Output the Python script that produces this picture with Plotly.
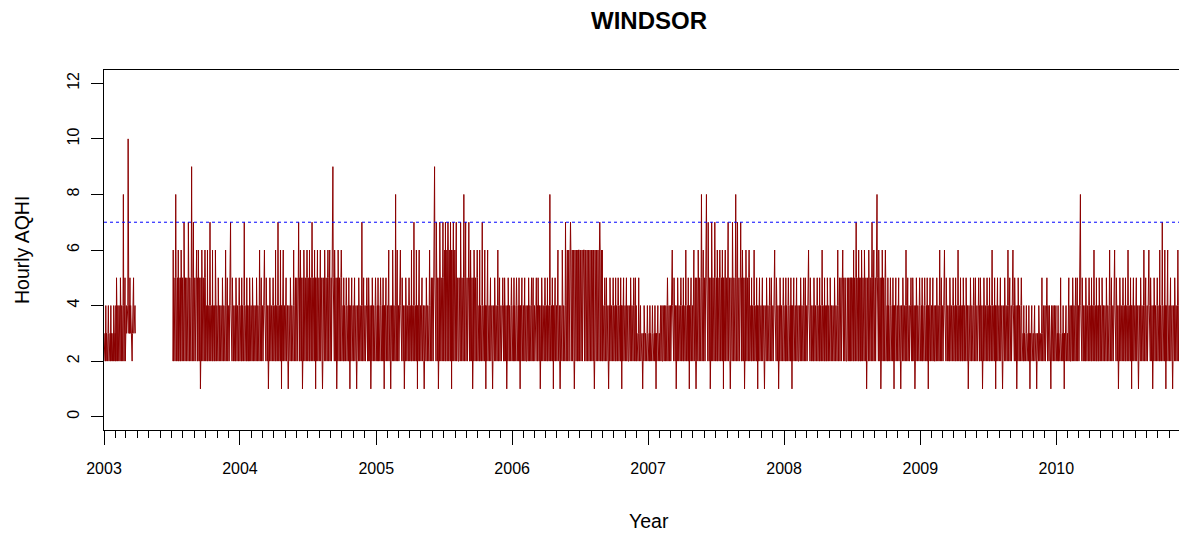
import pandas as pd
import plotly.graph_objects as go

# ---- data (monthly summaries of hourly AQHI, Windsor) ----
years = [2003, 2004, 2005, 2006, 2007, 2008, 2009, 2010]
data_start = "2003-01-01"
gap_start = "2003-03-27"     # no observations in this gap
gap_end = "2003-07-04"
data_end = "2010-12-31"
threshold = 7

# monthly minimum
mon_min = [2, 2, 2, None, None, None, 2, 2, 1, 2, 2, 2,
           2, 2, 1, 1, 1, 1, 1, 1, 1, 1, 1, 1,
           1, 1, 1, 1, 1, 1, 1, 2, 1, 1, 1, 1,
           1, 2, 1, 1, 1, 1, 2, 1, 1, 1, 2, 1,
           1, 2, 1, 1, 1, 1, 1, 1, 1, 1, 1, 1,
           1, 2, 2, 2, 2, 2, 2, 1, 1, 1, 1, 1,
           1, 2, 2, 2, 1, 1, 1, 1, 1, 1, 1, 1,
           1, 2, 2, 2, 2, 1, 1, 1, 1, 1, 1, 1]
# bottom of the dense band
band_lo = [2, 2, 3, None, None, None, 2, 2, 2, 2, 2, 2,
           2, 2, 2, 2, 2, 2, 2, 2, 2, 2, 2, 2,
           2, 2, 2, 2, 2, 2, 2, 2, 2, 2, 2, 2,
           2, 2, 2, 2, 2, 2, 2, 2, 2, 2, 2, 2,
           2, 2, 2, 2, 2, 2, 2, 2, 2, 2, 2, 2,
           2, 2, 2, 2, 2, 2, 2, 2, 2, 2, 2, 2,
           2, 2, 2, 2, 2, 2, 2, 2, 2, 2, 2, 2,
           2, 2, 2, 2, 2, 2, 2, 2, 2, 2, 2, 2]
# top of the dense band
band_hi = [3, 4, 4, None, None, None, 5, 5, 5, 4, 4, 4,
           4, 4, 4, 4, 4, 5, 5, 5, 5, 4, 4, 4,
           4, 4, 4, 4, 4, 5, 6, 5, 5, 4, 4, 4,
           4, 4, 4, 4, 4, 6, 6, 6, 4, 4, 4, 3,
           3, 4, 4, 4, 5, 5, 5, 5, 5, 4, 4, 4,
           4, 4, 4, 4, 4, 5, 5, 5, 5, 4, 4, 4,
           4, 4, 4, 4, 4, 4, 4, 4, 4, 3, 3, 4,
           3, 4, 4, 4, 4, 4, 4, 4, 4, 4, 4, 4]
# frequent secondary spikes
mon_sub = [4, 5, 5, None, None, None, 6, 7, 6, 6, 5, 5,
           5, 5, 5, 6, 5, 6, 6, 6, 6, 5, 5, 5,
           5, 6, 5, 6, 5, 7, 7, 7, 6, 6, 5, 5,
           5, 5, 5, 5, 6, 6, 6, 6, 5, 5, 5, 4,
           4, 4, 5, 5, 6, 7, 6, 7, 6, 5, 5, 5,
           5, 5, 5, 5, 5, 5, 6, 6, 6, 5, 5, 5,
           5, 5, 5, 5, 5, 5, 5, 5, 5, 4, 4, 4,
           4, 5, 5, 5, 5, 5, 5, 5, 5, 6, 5, 5]
# monthly maximum
mon_max = [4, 8, 10, None, None, None, 8, 9, 6, 7, 6, 7,
           7, 6, 6, 7, 6, 7, 7, 6, 9, 5, 7, 5,
           5, 8, 6, 7, 6, 9, 7, 8, 7, 7, 6, 5,
           5, 5, 5, 8, 7, 7, 6, 7, 5, 5, 5, 5,
           4, 5, 6, 6, 8, 8, 6, 8, 7, 6, 5, 6,
           5, 5, 6, 6, 6, 6, 7, 7, 8, 5, 6, 5,
           5, 6, 6, 6, 5, 5, 6, 6, 6, 4, 5, 5,
           5, 5, 8, 6, 6, 6, 6, 6, 6, 7, 6, 5]

y_ticks = [0, 2, 4, 6, 8, 10, 12]

# ---- build the line: each month drawn as a dense trace through its read levels ----
months = pd.date_range(f"{years[0]}-01-01", periods=len(mon_max), freq="MS")
t_start = pd.Timestamp(data_start)
t_gap0 = pd.Timestamp(gap_start)
t_gap1 = pd.Timestamp(gap_end)
t_end = pd.Timestamp(data_end) + pd.Timedelta(hours=23)

N_SUB = 32
# drawing layouts (which sub-step shows the max / min / secondary spikes)
layouts = [dict(mx=12, mn=22, sub=(5, 19, 27)),
           dict(mx=24, mn=9, sub=(3, 15, 29)),
           dict(mx=6, mn=17, sub=(11, 21, 30))]

xs, ys = [], []
in_gap = False
for i, m0 in enumerate(months):
    if mon_max[i] is None:
        continue
    lay = layouts[i % len(layouts)]
    m1 = m0 + pd.offsets.MonthBegin(1)
    step = (m1 - m0) / N_SUB
    lo, hi, sub, mx, mn = band_lo[i], band_hi[i], mon_sub[i], mon_max[i], mon_min[i]
    for k in range(N_SUB):
        t = m0 + step * k
        if t < t_start or t > t_end:
            continue
        if t_gap0 <= t < t_gap1:
            if not in_gap:
                xs.append(None)
                ys.append(None)
                in_gap = True
            continue
        in_gap = False
        if k == lay["mx"]:
            v = mx
        elif k == lay["mn"]:
            v = mn
        elif k in lay["sub"]:
            v = sub
        else:
            v = lo if k % 2 == 0 else hi
        xs.append(t)
        ys.append(v)

fig = go.Figure()
fig.add_trace(go.Scatter(x=xs, y=ys, mode="lines",
                         line=dict(color="#8B0000", width=1),
                         connectgaps=False, hoverinfo="skip", showlegend=False))

fig.add_shape(type="line", xref="paper", x0=0, x1=1, yref="y", y0=threshold, y1=threshold,
              line=dict(color="blue", width=1, dash="dot"))

FONT = "Liberation Sans, Arial, Helvetica, sans-serif"
OFF = 8                       # page body margin of the html page
W, H = 1187 - OFF, 535 - OFF
L, R, T, B = 96, 0, 70 - OFF, 105
pw = W - L - R
ph = H - T - B


def py(page_y):
    """page pixel y -> paper y"""
    return (T + ph - (page_y - OFF)) / ph


def px(page_x):
    """page pixel x -> paper x"""
    return (page_x - OFF - L) / pw


fig.update_layout(
    width=W, height=H,
    margin=dict(l=L, r=R, t=T, b=B),
    paper_bgcolor="white", plot_bgcolor="white",
    font=dict(family=FONT, color="black", size=16),
    showlegend=False,
)

fig.update_xaxes(
    type="date",
    range=["2003-01-01", "2010-12-18"],
    tick0="2003-01-01", dtick="M12", tickformat="%Y",
    ticks="outside", ticklen=14, tickcolor="black", tickwidth=1,
    minor=dict(dtick="M1", tick0="2003-01-01", ticks="outside", ticklen=7,
               tickcolor="black", tickwidth=1, showgrid=False),
    showline=True, linecolor="black", linewidth=1, mirror=True,
    showgrid=False, zeroline=False,
    tickfont=dict(family=FONT, size=16, color="black"),
    ticklabelstandoff=10,
)
fig.update_yaxes(
    range=[-0.48, 12.48],
    tickvals=y_ticks, ticktext=[str(v) for v in y_ticks],
    ticks="outside", ticklen=12, tickcolor="black", tickwidth=1,
    tickangle=-90,
    showline=True, linecolor="black", linewidth=1, mirror=False,
    showgrid=False, zeroline=False,
    tickfont=dict(family=FONT, size=16, color="black"),
    ticklabelstandoff=6,
)

fig.add_annotation(text="<b>WINDSOR</b>", xref="paper", yref="paper",
                   x=px(649), y=py(20),
                   showarrow=False, xanchor="center", yanchor="middle",
                   font=dict(family=FONT, size=24, color="black"))
fig.add_annotation(text="Year", xref="paper", yref="paper",
                   x=px(649), y=py(521),
                   showarrow=False, xanchor="center", yanchor="middle",
                   font=dict(family=FONT, size=19.5, color="black"))
fig.add_annotation(text="Hourly AQHI", xref="paper", yref="paper",
                   x=px(22), y=py(250), textangle=-90,
                   showarrow=False, xanchor="center", yanchor="middle",
                   font=dict(family=FONT, size=19.5, color="black"))

fig.write_html("out.html")
